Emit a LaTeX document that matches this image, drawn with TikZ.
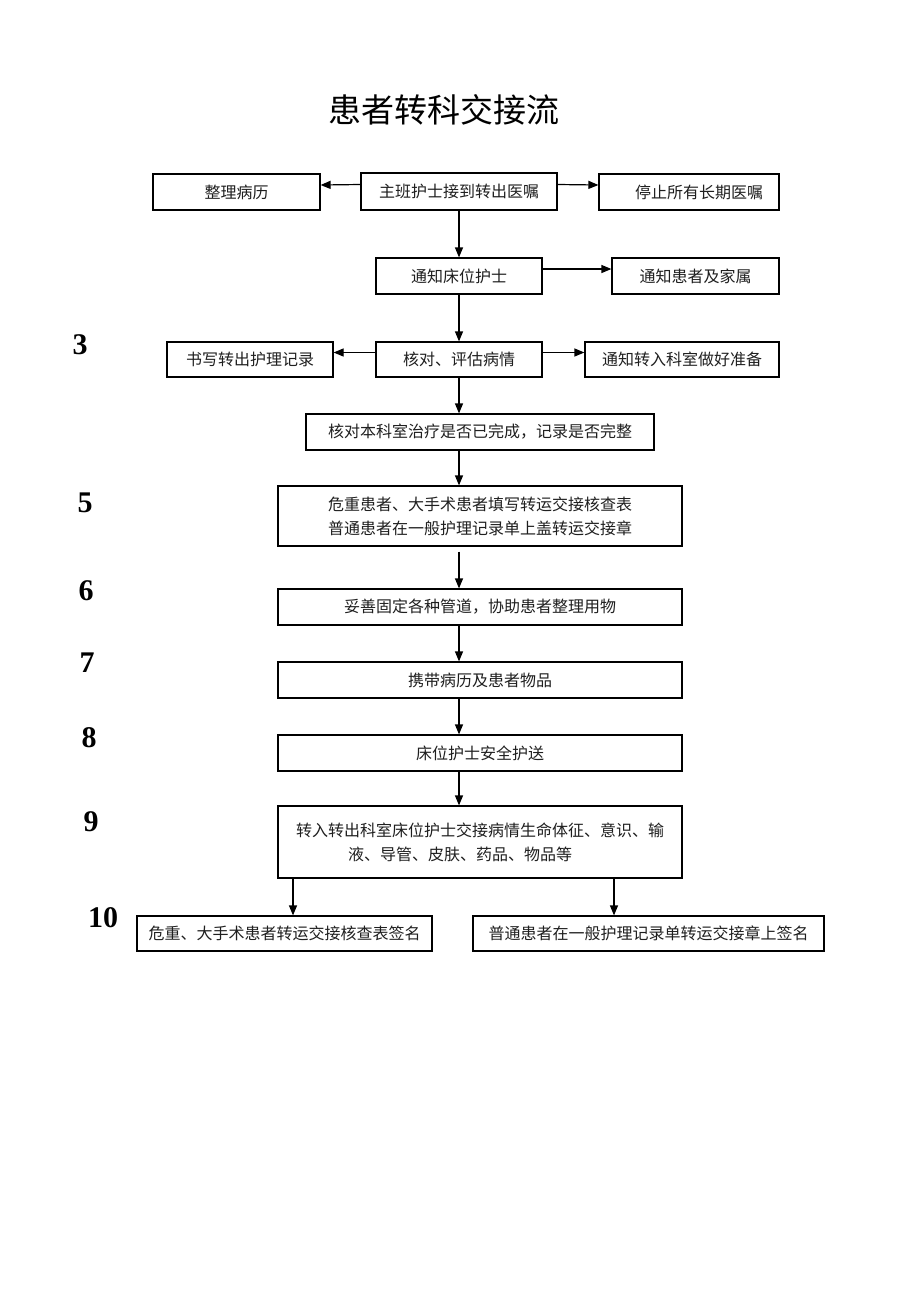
\documentclass[tikz,border=0pt]{standalone}
\usepackage{fontspec}
\newfontfamily\cjk{Noto Sans CJK SC}
\newfontfamily\numfont{Liberation Serif}
\usetikzlibrary{arrows.meta,positioning}
\begin{document}
\begin{tikzpicture}[x=1pt,y=-1pt,
  box/.style={draw=black,line width=1.2pt,rectangle,inner sep=0pt,align=center,
    font=\cjk\fontsize{16}{24}\selectfont,text=black!88},
  arr/.style={line width=1.2pt,-{Triangle[length=10pt,width=8pt]}},
  num/.style={font=\numfont\bfseries\fontsize{30}{32}\selectfont,inner sep=0pt},
  ttl/.style={font=\cjk\fontsize{33}{36}\selectfont,inner sep=0pt}]
\useasboundingbox[fill=white] (0,0) rectangle (920,1302);

\node[ttl] (title) at (444,110) {患者转科交接流};

\node[box,minimum width=167pt,minimum height=36pt] (zl) at (236.5,192) {整理病历};
\node[box,minimum width=196pt,minimum height=37pt] (main) at (459,191.5) {主班护士接到转出医嘱};
\node[box,minimum width=180pt,minimum height=36pt] (zr) at (689,192) {\hspace*{20pt}停止所有长期医嘱};

\node[box,minimum width=166pt,minimum height=36pt] (n2) at (459,276) {通知床位护士};
\node[box,minimum width=167pt,minimum height=36pt] (n2r) at (695.5,276) {通知患者及家属};

\node[box,minimum width=166pt,minimum height=35pt] (n3l) at (250,359.5) {书写转出护理记录};
\node[box,minimum width=166pt,minimum height=35pt] (n3) at (459,359.5) {核对、评估病情};
\node[box,minimum width=194pt,minimum height=35pt] (n3r) at (682,359.5) {通知转入科室做好准备};

\node[box,minimum width=348pt,minimum height=36pt] (n4) at (480,432) {核对本科室治疗是否已完成，记录是否完整};
\node[box,minimum width=404pt,minimum height=60pt] (n5) at (480,516) {危重患者、大手术患者填写转运交接核查表\\普通患者在一般护理记录单上盖转运交接章};
\node[box,minimum width=404pt,minimum height=36pt] (n6) at (480,607) {妥善固定各种管道，协助患者整理用物};
\node[box,minimum width=404pt,minimum height=36pt] (n7) at (480,680) {携带病历及患者物品};
\node[box,minimum width=404pt,minimum height=36pt] (n8) at (480,753) {床位护士安全护送};
\node[box,minimum width=404pt,minimum height=72pt] (n9) at (480,842) {转入转出科室床位护士交接病情生命体征、意识、输\\液、导管、皮肤、药品、物品等\hspace*{40pt}};
\node[box,minimum width=295pt,minimum height=35pt] (n10l) at (284.5,933.5) {危重、大手术患者转运交接核查表签名};
\node[box,minimum width=351pt,minimum height=35pt] (n10r) at (648.5,933.5) {普通患者在一般护理记录单转运交接章上签名};

\node[num] (k3) at (80,345) {3};
\node[num] (k5) at (85,503) {5};
\node[num] (k6) at (86,591) {6};
\node[num] (k7) at (87,663) {7};
\node[num] (k8) at (89,738) {8};
\node[num] (k9) at (91,822) {9};
\node[num] (k10) at (103,918) {10};

% row 1
\draw[arr] ([yshift=7pt]main.west) -- ([yshift=7pt]zl.east);
\draw[arr] ([yshift=7pt]main.east) -- ([yshift=7pt]zr.west);
\draw[arr] (main.south) -- (n2.north);
% row 2
\draw[arr] ([yshift=7pt]n2.east) -- ([yshift=7pt]n2r.west);
\draw[arr] (n2.south) -- (n3.north);
% row 3
\draw[arr] ([yshift=7pt]n3.west) -- ([yshift=7pt]n3l.east);
\draw[arr] ([yshift=7pt]n3.east) -- ([yshift=7pt]n3r.west);
\draw[arr] (n3.south) -- (n3.south |- n4.north);
% chain
\draw[arr] (n4.south -| n3) -- (n5.north -| n3);
\draw[arr] ([yshift=-5pt]n5.south -| n3) -- (n6.north -| n3);
\draw[arr] (n6.south -| n3) -- (n7.north -| n3);
\draw[arr] (n7.south -| n3) -- (n8.north -| n3);
\draw[arr] (n8.south -| n3) -- (n9.north -| n3);
% split
\draw[arr] ([xshift=8.5pt]n10l.north |- n9.south) -- ([xshift=8.5pt]n10l.north);
\draw[arr] ([xshift=-34.5pt]n10r.north |- n9.south) -- ([xshift=-34.5pt]n10r.north);
\end{tikzpicture}
\end{document}
